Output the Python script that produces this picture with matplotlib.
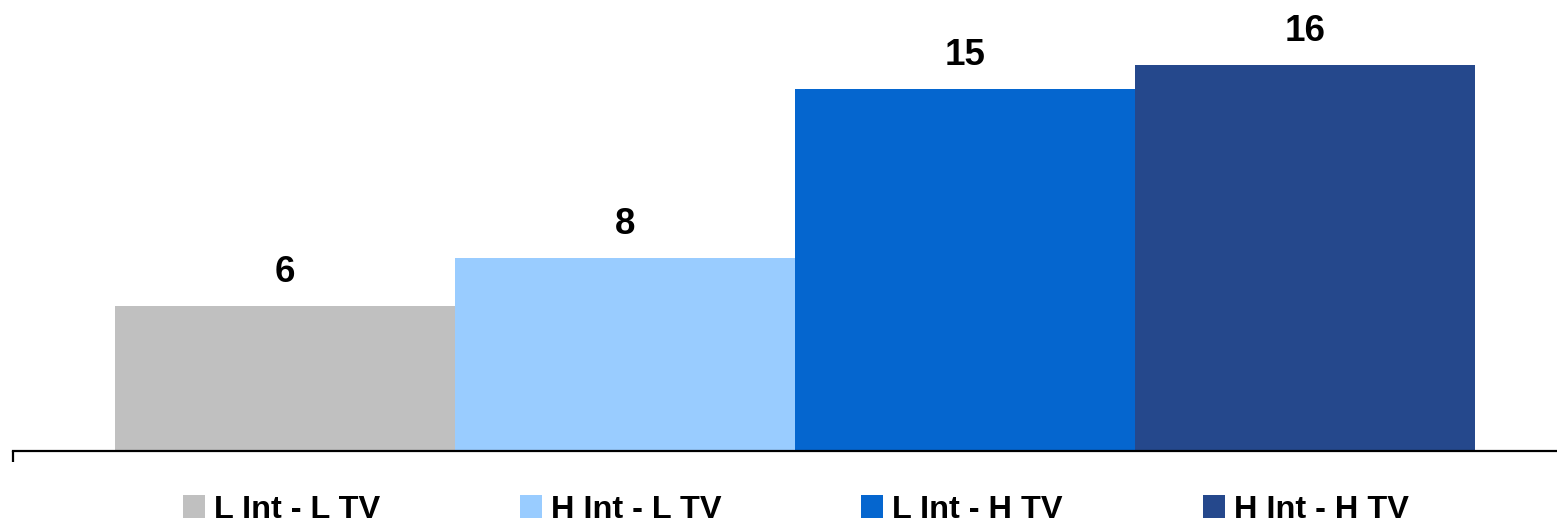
import matplotlib.pyplot as plt
from matplotlib.patches import Patch
import numpy as np

# Segment data
categories = ["L Int - L TV", "H Int - L TV", "L Int - H TV", "H Int - H TV"]
values = [6, 8, 15, 16]
colors = ["#C0C0C0", "#99CCFF", "#0566CF", "#25488C"]

plt.rcParams["font.family"] = ["Liberation Sans", "DejaVu Sans"]
plt.rcParams["font.weight"] = "bold"

fig = plt.figure(figsize=(15.57, 5.24), dpi=100)
ax = fig.add_axes([13 / 1557, 73.5 / 524, 1 - 13 / 1557, 450.5 / 524])

x = np.arange(len(values))
bars = ax.bar(x, values, width=1.0, color=colors, linewidth=0)

# Value labels above each bar
for xi, v in zip(x, values):
    ax.annotate(f"{v}", (xi, v), xytext=(0, 17.3), textcoords="offset points",
                ha="center", va="baseline", fontsize=26.5, fontweight="bold")

ax.set_xlim(-0.8, 3.741)
ax.set_ylim(0, 450.5 / 24.07)

for side in ["top", "right", "left"]:
    ax.spines[side].set_visible(False)
ax.spines["bottom"].set_linewidth(1.6)
ax.spines["bottom"].set_color("black")

ax.set_yticks([])
ax.set_xticks([-0.8])
ax.set_xticklabels([""])
ax.tick_params(axis="x", direction="out", length=8, width=1.6, color="black")

handles = [Patch(facecolor=c, edgecolor="none") for c in colors]
fig.legend(handles, categories, loc="lower center", bbox_to_anchor=(0.511, -0.002),
           ncol=4, frameon=False, prop={"weight": "bold", "size": 23.4},
           handlelength=0.68, handleheight=0.68, handletextpad=0.28,
           columnspacing=4.3, borderpad=0, borderaxespad=0)

fig.savefig("out.png", dpi=100)
